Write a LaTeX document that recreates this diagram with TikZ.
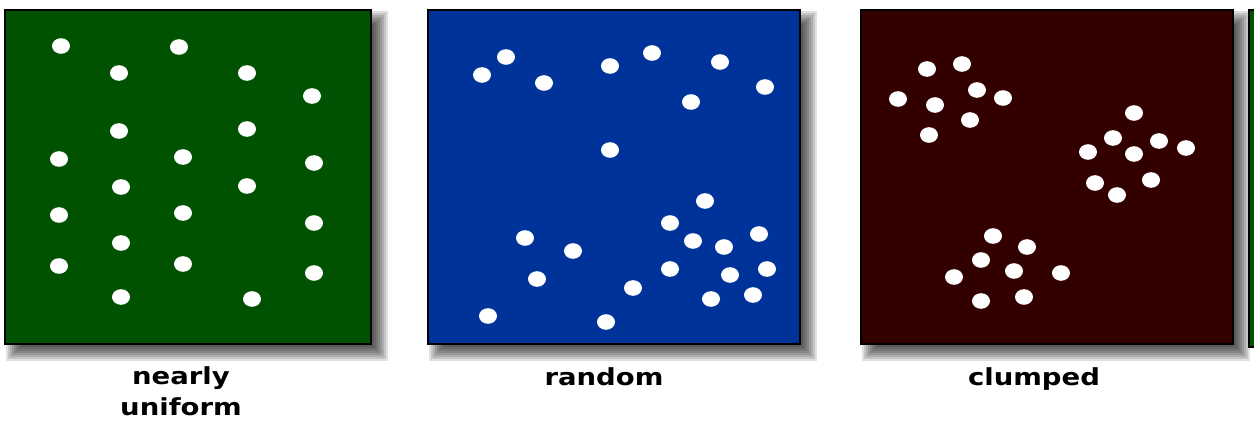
\documentclass[tikz,border=0pt]{standalone}
\usepackage{fontspec}
\newfontfamily\labelfont[FakeStretch=1.17]{DejaVu Sans}
\definecolor{fieldgreen}{RGB}{0,82,0}
\definecolor{fieldblue}{RGB}{0,51,153}
\definecolor{fieldmaroon}{RGB}{51,0,0}
\tikzset{
  panel/.style={draw=black, line width=1.5pt},
  spot/.style={fill=white},
  caption/.style={font={\labelfont\bfseries\fontsize{23.5}{31}\selectfont}, inner sep=0pt, align=center}
}
\begin{document}
\begin{tikzpicture}[x=1pt,y=-1pt]
\useasboundingbox (0,0) rectangle (1254,422);
\clip (0,0) rectangle (1254,422);
% soft shadows
\foreach \xa/\xb in {5/371,428/800,861/1233}
  \foreach \k in {-8,-6,...,8}
    \fill[black,opacity=0.12] (\xa+9+\k,19+\k) rectangle (\xb+9-\k,353-\k);
% fields
\draw[panel, fill=fieldgreen] (5,10) rectangle (371,344);
\draw[panel, fill=fieldblue] (428,10) rectangle (800,344);
\draw[panel, fill=fieldmaroon] (861,10) rectangle (1233,344);
\draw[panel, fill=fieldgreen] (1249,10) rectangle (1270,347);
% nearly uniform
\foreach \x/\y in {61/46,179/47,119/73,247/73,312/96,119/131,247/129,59/159,183/157,314/163,
  121/187,247/186,59/215,183/213,314/223,121/243,59/266,183/264,314/273,121/297,252/299}
  \fill[spot] (\x,\y) ellipse [x radius=9pt, y radius=7.8pt];
% random
\foreach \x/\y in {482/75,506/57,544/83,610/66,652/53,720/62,765/87,691/102,610/150,705/201,
  670/223,693/241,724/247,759/234,525/238,573/251,537/279,670/269,730/275,767/269,
  633/288,711/299,753/295,488/316,606/322}
  \fill[spot] (\x,\y) ellipse [x radius=9pt, y radius=7.8pt];
% clumped
\foreach \x/\y in {927/69,962/64,898/99,935/105,977/90,1003/98,970/120,929/135,
  1134/113,1113/138,1159/141,1186/148,1088/152,1134/154,1095/183,1151/180,1117/195,
  993/236,1027/247,981/260,1014/271,954/277,1061/273,981/301,1024/297}
  \fill[spot] (\x,\y) ellipse [x radius=9pt, y radius=7.8pt];
\node[caption, anchor=north] (uniform) at (181,366) {nearly\\uniform};
\node[caption, anchor=base] (random) at (604,385) {random};
\node[caption, anchor=base] (clumped) at (1034,385) {clumped};
\end{tikzpicture}
\end{document}
